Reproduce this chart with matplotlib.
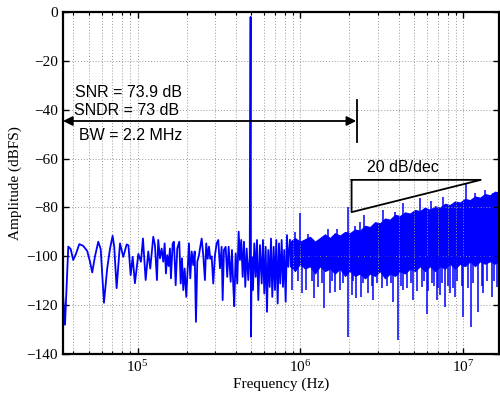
import numpy as np
import matplotlib
matplotlib.use('Agg')
import matplotlib.pyplot as plt

plt.rcParams['font.family'] = ['Liberation Serif', 'DejaVu Serif']
plt.rcParams['mathtext.fontset'] = 'stix'

# low frequency part of spectrum (Hz, dBFS), read bin by bin
f_low = [34.3e3, 35.8e3, 37.5e3, 38.8e3, 40.2e3, 41.8e3, 43.8e3, 46.3e3, 49.0e3, 50.9e3,
         52.6e3, 54.7e3, 57.3e3, 59.3e3, 62.1e3, 65.0e3, 67.6e3, 70.2e3, 71.8e3, 74.3e3,
         77.9e3, 81.6e3, 85.6e3, 87.8e3, 90.6e3, 93.2e3, 96.2e3, 98.6e3, 101e3, 104.8e3,
         107.8e3, 112e3, 116.2e3, 119.5e3, 124.7e3, 127.7e3, 131.4e3, 133.8e3, 137.1e3, 140.4e3,
         143.6e3, 146.5e3, 149.2e3, 152e3, 155e3, 157.9e3, 160.1e3, 164.1e3, 167.1e3, 171.2e3,
         175.1e3, 180.2e3, 183.8e3, 187.2e3, 190.6e3, 194.4e3, 198.9e3, 202.9e3, 206.6e3, 210.5e3,
         214.7e3, 219.6e3, 224e3, 228.1e3, 232.4e3, 238.1e3, 242.5e3, 247.3e3, 252.9e3, 259e3,
         263.8e3, 269.2e3, 274.2e3, 279.3e3, 284.8e3, 291.3e3, 298.4e3, 305.7e3, 312.7e3, 320.3e3,
         328.1e3, 332.7e3, 338.9e3, 347.1e3, 355.1e3, 362.2e3, 372.6e3, 379.5e3, 386.5e3, 392e3,
         399.9e3, 409e3, 417.2e3, 425e3, 432.8e3, 441.6e3, 449.8e3, 458.1e3, 467.3e3, 478e3,
         488e3, 494e3, 497e3, 501.6e3, 510.9e3, 520.4e3, 530.8e3, 540.7e3, 550.7e3, 564e3,
         577.8e3, 588.5e3, 599.4e3, 611.4e3, 622.8e3, 634.3e3, 647e3, 659e3, 671.3e3, 684.7e3,
         697.4e3, 710.4e3, 724.4e3, 737.9e3, 751.5e3, 766.5e3, 780.7e3, 795.2e3, 811.1e3, 826.2e3,
         841.5e3, 862e3]
a_low = [-109, -128, -96, -97, -101.5, -99, -95, -95.7, -97.8, -102,
         -106.6, -100, -94, -97, -119, -105, -97, -91.6, -96, -113,
         -94.7, -100.2, -95.1, -95.5, -107.7, -100.2, -111, -105, -99, -102.2,
         -92.7, -109.7, -98, -105, -92, -95.4, -109.7, -93.3, -100.8, -96.8,
         -102.2, -94.7, -107, -99.5, -104, -96.8, -109, -94.7, -94, -111.8,
         -96.8, -94, -111.1, -100.8, -113.8, -105, -116.6, -104.9, -94.7, -109,
         -98, -103.6, -98, -126.8, -102.2, -99.5, -96, -92.7, -99.5, -109.7,
         -94.7, -101, -96, -101, -100, -111.1, -99.5, -94.7, -93.3, -104.9,
         -96.1, -117.9, -97.4, -96.1, -108.4, -96.1, -110.4, -97.4, -111.8, -120.4,
         -98.8, -111.1, -89.9, -101.5, -93.3, -108.4, -94, -112.5, -96.8, -109.7,
         -100, -2.0, -132.9, -100.2, -113.8, -94.7, -108.4, -93.3, -117.9, -95.4,
         -111.1, -93.3, -115.2, -96.1, -122.7, -97.4, -112.5, -92.7, -116.6, -96.1,
         -113.8, -93.3, -119.3, -94.7, -111.1, -93.3, -112.5, -97.4, -118.6, -91.3,
         -104.3, -93.3]

# dense high frequency part: band edges of the noise floor
f_band = [8.62e5, 9.25e5, 9.93e5, 1.066e6, 1.144e6, 1.228e6, 1.318e6, 1.414e6, 1.518e6, 1.629e6,
          1.748e6, 1.877e6, 2.014e6, 2.162e6, 2.320e6, 2.490e6, 2.673e6, 2.869e6, 3.078e6, 3.304e6,
          3.546e6, 3.806e6, 4.085e6, 4.384e6, 4.705e6, 5.050e6, 5.420e6, 5.817e6, 6.245e6, 6.702e6,
          7.193e6, 7.720e6, 8.286e6, 8.892e6, 9.544e6, 1.0243e7, 1.0996e7, 1.180e7, 1.2666e7, 1.359e7,
          1.459e7, 1.566e7, 1.657e7]
band_top = [-94, -92.5, -94, -93, -92, -94, -92.5, -91, -92.5, -90.5,
            -91.5, -90, -90.5, -89, -89.5, -87.5, -88, -86, -86.5, -84.5,
            -85, -83, -83.5, -82, -82.5, -81, -81.5, -80, -81, -79.5,
            -80, -78.5, -79, -77.5, -78, -76.5, -77, -75.5, -76, -74.5,
            -75, -73.5, -74]
band_bot = [-104, -106, -103, -105, -104, -107, -104, -106, -105, -107,
            -105, -108, -106, -108, -107, -109, -107, -108, -106, -109,
            -107, -108, -106, -107, -105, -106, -104, -106, -104, -106,
            -104, -105, -103, -105, -103, -104, -102, -104, -102, -103,
            -102, -103, -102]

# spikes sticking out of the band
f_up = [9.25e5, 9.93e5, 1.112e6, 1.469e6, 1.669e6, 1.966e6, 2.162e6, 2.320e6, 2.455e6, 3.226e6,
        3.806e6, 4.25e6, 5.42e6, 6.35e6, 7.535e6, 1.039e7, 1.18e7, 1.359e7, 1.522e7]
a_up = [-90, -82.4, -91, -89, -88.6, -79.7, -87.5, -85.8, -83.1, -81.1,
        -82, -78.3, -76.3, -77.5, -75.6, -70.1, -74, -73, -74.2]
f_down = [8.83e5, 9.6e5, 1.017e6, 1.076e6, 1.18e6, 1.215e6, 1.287e6, 1.36e6, 1.401e6, 1.518e6,
          1.57e6, 1.629e6, 1.748e6, 1.82e6, 1.950e6, 2.064e6, 2.1e6, 2.183e6, 2.353e6, 2.42e6,
          2.61e6, 2.74e6, 2.801e6, 2.95e6, 3.15e6, 3.304e6, 3.42e6, 3.62e6, 3.716e6, 3.987e6,
          4.15e6, 4.28e6, 4.5e6, 4.8e6, 4.931e6, 5.2e6, 5.553e6, 5.7e6, 5.96e6, 6.1e6,
          6.396e6, 6.6e6, 6.866e6, 7.0e6, 7.193e6, 7.4e6, 7.72e6, 8.0e6, 8.286e6, 8.6e6,
          8.892e6, 9.2e6, 9.8e6, 1.0e7, 1.07e7, 1.115e7, 1.15e7, 1.237e7, 1.3e7, 1.327e7,
          1.4e7, 1.494e7, 1.55e7, 1.604e7]
a_down = [-113.8, -110, -115.2, -113.8, -110, -117.2, -112.5, -111, -121.3, -115.2,
          -110, -114.5, -113.8, -111, -132.9, -115.9, -110, -117.2, -116.6, -111,
          -115.2, -112, -117.9, -111, -113, -108, -112, -111, -118.6, -134.3,
          -112, -113.8, -113, -111, -117.9, -114, -112.5, -110, -123.4, -114,
          -111.1, -112, -117.9, -113, -116, -111, -120.6, -112, -115.2, -113,
          -116.6, -110, -112, -124.7, -113, -128.8, -111, -122.7, -112, -115.2,
          -110, -116.6, -110, -112.5]

blue = '#0000ff'

fig = plt.figure(figsize=(5, 4.01), dpi=100)
ax = fig.add_axes([0.126, 0.117, 0.871, 0.853])

ax.plot(f_low, a_low, color=blue, lw=1.3)
ax.fill_between(f_band, band_bot, band_top, color=blue, lw=0.8)
ax.vlines(f_up, -95, a_up, color=blue, lw=1.1)
ax.vlines(f_down, a_down, -100, color=blue, lw=1.1)

ax.set_xscale('log')
ax.set_xlim(3.48e4, 1.645e7)
ax.set_ylim(-140, 0)
ax.set_yticks(np.arange(-140, 1, 20))

ax.grid(True, which='major', color='0.6', linestyle=(0, (1, 2)), lw=0.7)
ax.grid(True, which='minor', axis='x', color='0.6', linestyle=(0, (1, 2)), lw=0.7)
ax.tick_params(which='both', direction='in', top=True, right=True, labelsize=11)
ax.tick_params(which='major', length=4, width=1.0)
ax.tick_params(which='minor', length=2.5, width=0.8)
for s in ax.spines.values():
    s.set_linewidth(1.6)

ax.set_xlabel('Frequency (Hz)', fontsize=11, labelpad=2)
ax.set_ylabel('Amplitude (dBFS)', fontsize=11, labelpad=3)

# annotations
sans = ['Liberation Sans', 'DejaVu Sans']
ax.text(4.12e4, -34.8, 'SNR = 73.9 dB', family=sans, fontsize=11.5)
ax.text(4.06e4, -42.2, 'SNDR = 73 dB', family=sans, fontsize=11.5)
ax.text(4.38e4, -52.4, 'BW = 2.2 MHz', family=sans, fontsize=11.5)
ax.annotate('', xy=(3.48e4, -44.6), xytext=(2.2e6, -44.6),
            arrowprops=dict(arrowstyle='<|-|>', color='k', lw=1.3,
                            mutation_scale=14, shrinkA=0, shrinkB=0))
ax.plot([2.22e6, 2.22e6], [-36, -53], color='k', lw=1.3)

ax.plot([2.06e6, 1.28e7, 2.06e6, 2.06e6], [-68.7, -68.7, -81.9, -68.7], color='k', lw=1.3)
ax.text(2.55e6, -65.4, '20 dB/dec', family=sans, fontsize=11.5)

fig.savefig('out.png')
